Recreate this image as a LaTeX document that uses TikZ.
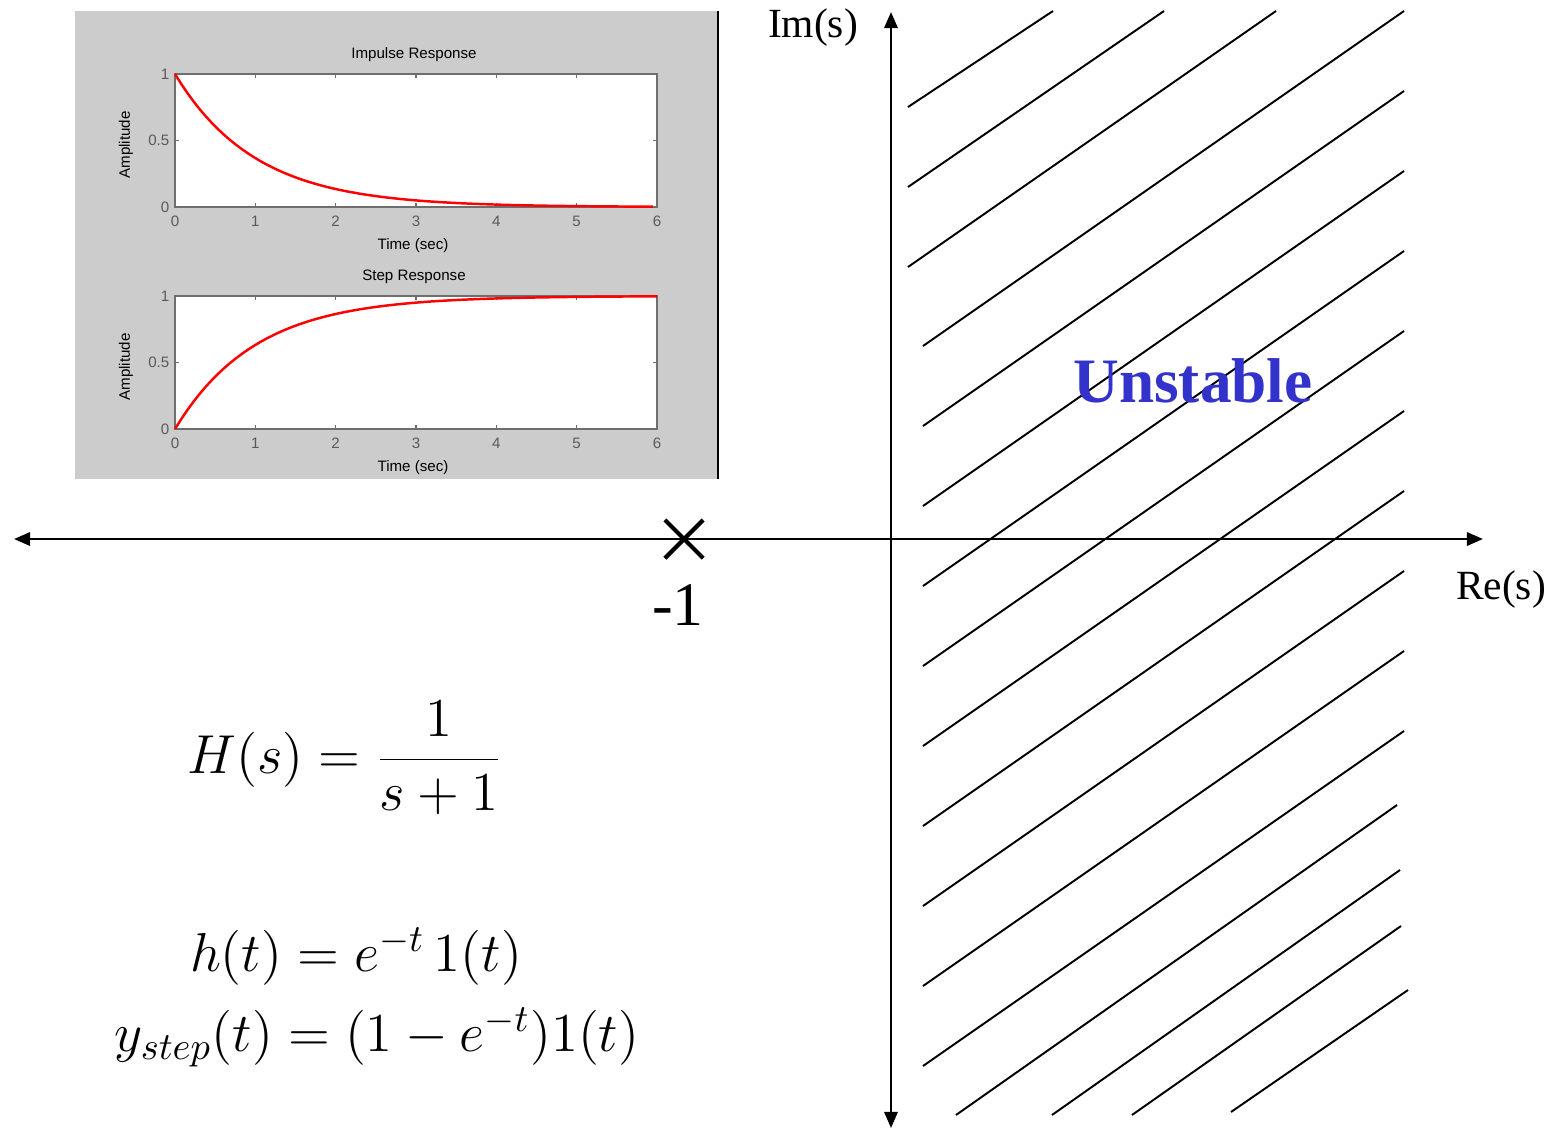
\RequirePackage{fix-cm}
\documentclass[tikz,border=0pt]{standalone}
\usepackage[no-math]{fontspec}
\setmainfont{Liberation Serif}
\newfontfamily\plotfont{Liberation Sans}
\usetikzlibrary{arrows.meta,shapes.misc}
\definecolor{panelgray}{RGB}{204,204,204}
\definecolor{tickgray}{RGB}{90,90,90}
\definecolor{boxgray}{RGB}{110,110,110}
\definecolor{unstableblue}{RGB}{51,51,204}
\begin{document}
\begin{tikzpicture}[x=0.01cm, y=-0.01cm]
    % Styles
    \tikzset{
        plane axis/.style={line width=0.7pt, {Triangle[length=4.6pt,width=3.8pt]}-{Triangle[length=4.6pt,width=3.8pt]}},
        hatch line/.style={line width=0.55pt},
        pole mark/.style={cross out, draw, line width=1.2pt, minimum size=0.34cm, inner sep=0pt},
        axis label/.style={font=\fontsize{11.8}{14}\selectfont, anchor=base, inner sep=0pt},
        eq/.style={font=\fontsize{15.6}{18}\selectfont, inner sep=0pt},
        plot text/.style={font=\plotfont\fontsize{4.3}{5}\selectfont, inner sep=0pt},
        tick text/.style={plot text, text=tickgray},
        resp/.style={red, line width=0.7pt},
        plot box/.style={draw=boxgray, line width=0.3pt, fill=white}
    }
    \useasboundingbox (0,0) rectangle (1559,1129);

    % --- Response plots (top left) ---
    \fill[panelgray] (75,11) rectangle (717,479);
    \draw[line width=0.6pt] (718,11) -- (718,479);
    \foreach \ytop/\title in {74/Impulse Response, 296/Step Response} {
        \draw[plot box] (175,\ytop) rectangle (657,{\ytop+133});
        \node[plot text] at (414,{\ytop-19}) {\title};
        \node[plot text, rotate=90] at (126,{\ytop+71}) {Amplitude};
        \node[plot text] at (413,{\ytop+172}) {Time (sec)};
        \foreach \t in {0,...,6} {
            \draw[boxgray, line width=0.3pt] ({175+80.33*\t},\ytop) -- ++(0,4);
            \draw[boxgray, line width=0.3pt] ({175+80.33*\t},{\ytop+133}) -- ++(0,-4);
            \node[tick text] at ({175+80.33*\t},{\ytop+147}) {\t};
        }
        \draw[boxgray, line width=0.3pt] (175,{\ytop+66.5}) -- ++(4,0);
        \draw[boxgray, line width=0.3pt] (657,{\ytop+66.5}) -- ++(-4,0);
        \node[tick text, anchor=east] at (170,\ytop) {1};
        \node[tick text, anchor=east] at (170,{\ytop+66.5}) {0.5};
        \node[tick text, anchor=east] at (170,{\ytop+133}) {0};
    }
    \draw[resp] plot[domain=0:5.95, samples=80] ({175+80.33*\x},{207-133*exp(-\x)});
    \draw[resp] plot[domain=0:6, samples=80] ({175+80.33*\x},{429-133*(1-exp(-\x))});

    % --- s-plane axes ---
    \coordinate (west) at (14,539);
    \coordinate (east) at (1483,539);
    \coordinate (north) at (891,12);
    \coordinate (south) at (891,1128);
    \draw[plane axis] (west) -- (east);
    \draw[plane axis] (south) -- (north);
    \node[axis label] (im) at (813,37) {Im(s)};
    \node[axis label] (re) at (1501,599) {Re(s)};

    % --- Pole at -1 ---
    \node[pole mark] (pole) at (684,539) {};
    \node[font=\fontsize{17.6}{20}\selectfont, anchor=base, inner sep=0pt] (minusone) at (678,625) {-1};

    % --- Hatching of the right half plane ---
    \foreach \y/\xr in {107/1053, 187/1164, 267/1276}
        \draw[hatch line] (908,\y) -- (\xr,11);
    \foreach \y in {346,426,...,1066}
        \draw[hatch line] (923,\y) -- (1404,{\y-335});
    \foreach \xl/\yl/\xr/\yr in {956/1115/1397/805, 1052/1115/1400/870, 1132/1115/1401/926, 1231/1112/1408/990}
        \draw[hatch line] (\xl,\yl) -- (\xr,\yr);
    \node[font=\fontsize{18}{20}\selectfont\bfseries, text=unstableblue, anchor=base, inner sep=0pt] (unstable) at (1193,402) {Unstable};

    % --- Equations ---
    \node[eq] (Hs) at (345,758) {$\displaystyle H(s)=\frac{1}{s+1}$};
    \node[eq, anchor=base] (ht) at (356,971) {$h(t)=e^{-t}\,1(t)$};
    \node[eq, anchor=base] (ystep) at (377,1051) {$y_{step}(t)=(1-e^{-t})1(t)$};
\end{tikzpicture}
\end{document}
